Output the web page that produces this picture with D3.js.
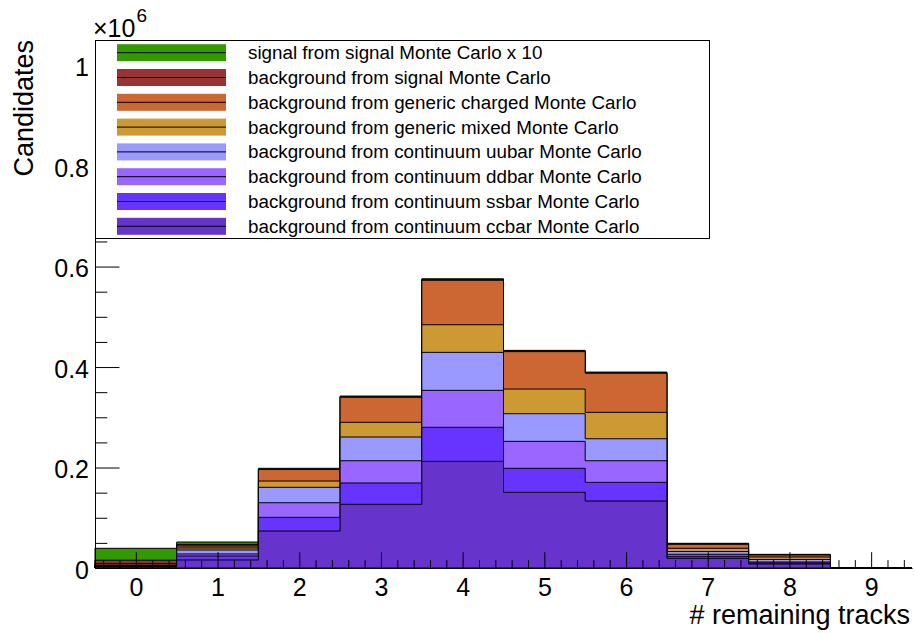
<!DOCTYPE html>
<html>
<head>
<meta charset="utf-8">
<script src="https://cdn.jsdelivr.net/npm/d3@7"></script>
<style>
  body { margin: 0; background: #fff; }
  svg text { font-family: "Liberation Sans", Arial, Helvetica, sans-serif; fill: #000; }
</style>
</head>
<body>
<div id="chart"></div>
<script>
// DATA (candidates per bin, bins = # remaining tracks)
var bins = [0, 1, 2, 3, 4, 5, 6, 7, 8, 9];

var ccbar   = [2000, 16000,  73600, 126800, 212300, 150600, 133300, 19300, 8000, 0];
var ssbar   = [1000,  7900,  27200,  42400,  67700,  47800,  37200,  4000, 2000, 0];
var ddbar   = [1000,  4100,  29100,  44300,  73600,  53700,  43000,  4000, 2000, 0];
var uubar   = [1000,  7800,  30700,  47200,  75600,  55000,  43800,  5500, 5000, 0];
var mixed   = [1000,  4000,  12500,  29300,  55000,  49100,  52500,  6400, 4900, 0];
var charged = [3000,  4000,  22900,  49800,  88500,  74500,  77900,  8000, 4000, 0];
var bgSignal = [6500, 3200,    900,   1000,   1200,   1000,    900,  1000,  600, 0];
var signalX10 = [23700, 4700,  1500,   1500,   1800,   1500,   1400,  1000,  700, 0];

var yTickValues = [0, 0.2, 0.4, 0.6, 0.8, 1];
var yTickLabels = ["0", "0.2", "0.4", "0.6", "0.8", "1"];

// legend order (top to bottom)
var legendNames = [
  "signal from signal Monte Carlo x 10",
  "background from signal Monte Carlo",
  "background from generic charged Monte Carlo",
  "background from generic mixed Monte Carlo",
  "background from continuum uubar Monte Carlo",
  "background from continuum ddbar Monte Carlo",
  "background from continuum ssbar Monte Carlo",
  "background from continuum ccbar Monte Carlo"
];
var legendColors = ["#339900", "#993333", "#cc6633", "#cc9933", "#9999ff", "#9966ff", "#6633ff", "#6633cc"];
var legendSeries = [signalX10, bgSignal, charged, mixed, uubar, ddbar, ssbar, ccbar];

// GLOBALS
var w = 915;
var h = 633;
var padLeft = 95, padRight = 912, padTop = 40, padBottom = 568;

var svg = d3.select("#chart").append("svg").attr("width", w).attr("height", h);

// SCALES
var xScale = d3.scaleLinear().domain([-0.5, 9.5]).range([padLeft, padRight]);
var yScale = d3.scaleLinear().domain([0, 1.051]).range([padBottom, padTop]);

// stack table, bottom layer first
var keys = d3.range(legendSeries.length).reverse();
var table = bins.map(function (b, i) {
  var row = { bin: b };
  keys.forEach(function (k) { row[k] = legendSeries[k][i] / 1e6; });
  return row;
});
var layers = d3.stack().keys(keys)(table);

// step area for one cumulative histogram
function stepPoints(layer) {
  var pts = layer.map(function (d) { return { x: d.data.bin - 0.5, y: d[1] }; });
  pts.push({ x: bins[bins.length - 1] + 0.5, y: layer[layer.length - 1][1] });
  return pts;
}
var area = d3.area()
  .curve(d3.curveStepAfter)
  .x(function (d) { return xScale(d.x); })
  .y0(yScale(0))
  .y1(function (d) { return yScale(d.y); });

// draw largest cumulative first (like THStack)
var hists = svg.append("g");
layers.slice().reverse().forEach(function (layer) {
  hists.append("path")
    .attr("d", area(stepPoints(layer)))
    .attr("fill", legendColors[layer.key])
    .attr("stroke", "#000")
    .attr("stroke-width", 1);
});

// AXES
var xMinor = d3.range(-0.4, 9.5, 0.2).filter(function (v) { return Math.abs(v - Math.round(v)) > 0.01; });
svg.append("g")
  .attr("transform", "translate(0," + padBottom + ")")
  .call(d3.axisBottom(xScale).tickValues(xMinor).tickSize(-7.9).tickSizeOuter(0).tickFormat(""))
  .call(function (g) { g.select(".domain").remove(); });

var xAxis = svg.append("g")
  .attr("transform", "translate(0," + padBottom + ")")
  .call(d3.axisBottom(xScale).tickValues(bins).tickSize(-15.8).tickSizeOuter(0).tickPadding(10).tickFormat(d3.format("d")));
xAxis.selectAll("text").attr("font-size", "25px");
xAxis.attr("font-family", null);

var yMinor = d3.range(0.05, 1.051, 0.05).filter(function (v) { return Math.abs(v * 5 - Math.round(v * 5)) > 0.01; });
svg.append("g")
  .attr("transform", "translate(" + padLeft + ",0)")
  .call(d3.axisLeft(yScale).tickValues(yMinor).tickSize(-12.3).tickSizeOuter(0).tickFormat(""))
  .call(function (g) { g.select(".domain").remove(); });

var yAxis = svg.append("g")
  .attr("transform", "translate(" + padLeft + ",0)")
  .call(d3.axisLeft(yScale).tickValues(yTickValues).tickSize(-24.5).tickSizeOuter(0).tickPadding(6)
    .tickFormat(function (d, i) { return yTickLabels[i]; }));
yAxis.selectAll("text").attr("font-size", "25px").attr("dy", "0.4em");
yAxis.attr("font-family", null);

svg.selectAll(".domain").attr("stroke", "#000");
svg.selectAll(".tick line").attr("stroke", "#000");

// axis titles
svg.append("text")
  .attr("transform", "translate(33," + padTop + ") rotate(-90)")
  .attr("text-anchor", "end")
  .attr("font-size", "27px")
  .text("Candidates");

svg.append("text")
  .attr("x", 910)
  .attr("y", 624)
  .attr("text-anchor", "end")
  .attr("font-size", "27px")
  .text("# remaining tracks");

// exponent
var expo = svg.append("text").attr("x", 93).attr("y", 37).attr("font-size", "25px").text("\u00d710");
svg.append("text")
  .attr("x", 93 + expo.node().getComputedTextLength() + 1)
  .attr("y", 22)
  .attr("font-size", "19px")
  .text("6");

// LEGEND
var legend = svg.append("g");
legend.append("rect")
  .attr("x", 95.5).attr("y", 40.5)
  .attr("width", 614).attr("height", 198)
  .attr("fill", "#fff").attr("stroke", "#000");

var rows = legend.selectAll("g.row")
  .data(legendNames)
  .enter()
  .append("g")
  .attr("class", "row")
  .attr("transform", function (d, i) { return "translate(0," + (52.7 + i * 24.8) + ")"; });

rows.append("rect")
  .attr("x", 117).attr("y", -8.5)
  .attr("width", 109).attr("height", 17)
  .attr("fill", function (d, i) { return legendColors[i]; });

rows.append("line")
  .attr("x1", 117).attr("x2", 226)
  .attr("stroke", "#000").attr("stroke-width", 1);

rows.append("text")
  .attr("x", 248)
  .attr("dy", "0.35em")
  .attr("font-size", "18.8px")
  .text(function (d) { return d; });
</script>
</body>
</html>
